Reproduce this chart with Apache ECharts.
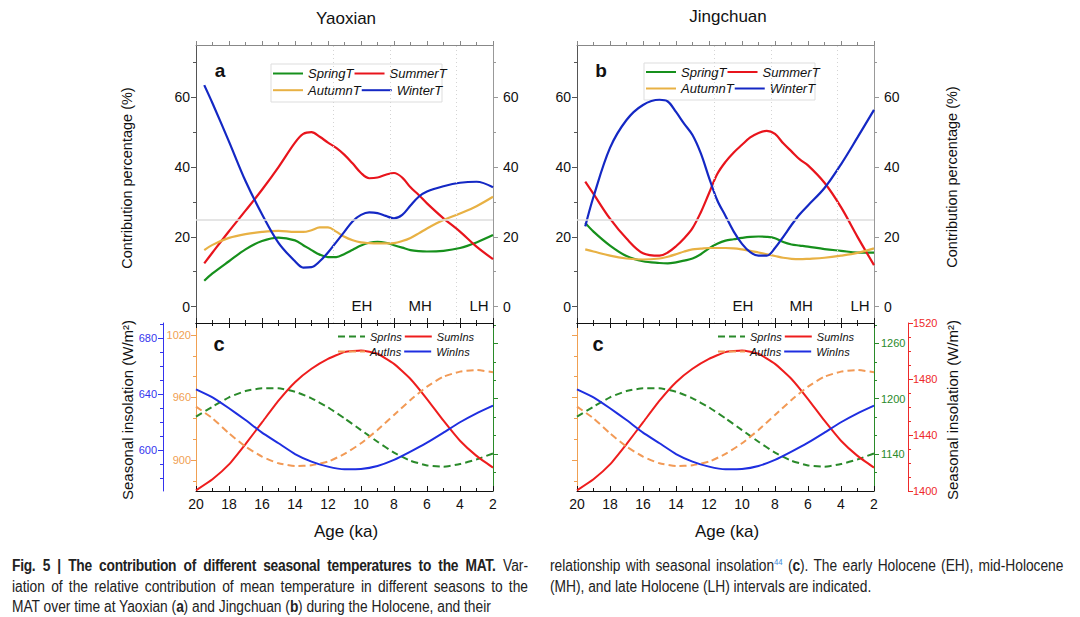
<!DOCTYPE html>
<html><head><meta charset="utf-8">
<script src="https://cdn.jsdelivr.net/npm/echarts@6/dist/echarts.min.js"></script>
<style>
html,body{margin:0;padding:0;background:#fff;}
#chart{position:absolute;left:0;top:0;width:1080px;height:617px;}
.cap{position:absolute;font-family:"Liberation Sans",Arial,sans-serif;font-size:16px;color:#222;line-height:20.5px;transform:scaleX(0.86);transform-origin:0 0;}
.cap div{white-space:nowrap;text-align:justify;text-align-last:justify;}
.cap div.last{text-align-last:left;}
.cap b{font-weight:bold;letter-spacing:-0.3px;}
.cap sup{color:#3c8ad8;font-size:9px;line-height:0;}
</style>
</head><body>
<div id="chart"></div>
<div class="cap" style="left:12px;top:556px;width:600px;">
<div><b>Fig. 5 | The contribution of different seasonal temperatures to the MAT.</b> Var-</div>
<div>iation of the relative contribution of mean temperature in different seasons to the</div>
<div class="last">MAT over time at Yaoxian (<b>a</b>) and Jingchuan (<b>b</b>) during the Holocene, and their</div>
</div>
<div class="cap" style="left:550px;top:556px;width:597px;">
<div>relationship with seasonal insolation<sup>44</sup> (<b>c</b>). The early Holocene (EH), mid-Holocene</div>
<div class="last">(MH), and late Holocene (LH) intervals are indicated.</div>
</div>
<script>
// ---------------- DATA ----------------
const yxAges = [19.5,19,18,17,16,15,14,13.5,13,12.5,12,11.5,11,10.5,10,9.5,9,8.5,8,7.5,7,6.5,6,5,4,3,2];
const yxSpringT = [7.4,9.5,13,16.4,18.8,19.8,19,17.6,16.2,14.9,14.2,14.2,15.1,16.3,17.5,18.3,18.6,18.3,17.6,16.9,16.2,15.9,15.8,16,16.8,18.4,20.5];
const yxSummerT = [12.4,15.5,21.6,27.5,33.5,40,47,49.5,50,48.7,47,45.5,43.5,41,38.3,36.8,37,37.8,38.3,37,34.2,32,29.6,25.3,21.5,17.2,13.6];
const yxAutumnT = [16.2,17.7,19.7,20.8,21.4,21.7,21.4,21.4,21.9,22.7,22.7,21.5,20,19,18.4,18.2,18.1,18.1,18.2,18.8,19.7,21,22.4,24.8,26.7,28.8,31.5];
const yxWinterT = [63.5,58.3,47.3,36,26.5,18.3,13,11.2,11.3,13,15.5,18.5,21.5,24.5,26.3,27,26.8,26,25.3,26.3,29,31.5,33,34.5,35.5,35.8,34.2];

const jcAges = [19.5,19,18,17,16,15,14.5,14,13.5,13,12.5,12,11.5,11,10.5,10,9.5,9,8.5,8,7.5,7,6.5,6,5,4,3,2];
const jcSpringT = [24,21.5,17.5,14.5,13,12.5,12.4,12.7,13.2,13.8,15,16.7,18,18.9,19.3,19.7,20,20.1,20,19.6,18.5,17.8,17.5,17.2,16.5,16,15.5,15.5];
const jcSummerT = [35.8,32.3,25.2,19.5,15.3,14.6,15.5,17.3,19.6,22.5,27,32.5,38,41.5,44.2,46.4,48.5,49.8,50.4,49.5,46.8,44.5,42.2,40.5,35.5,28.5,20,11.9];
const jcAutumnT = [16.4,15.8,14.6,13.8,13.5,13.8,14.3,15,15.8,16.4,16.6,16.8,16.8,16.8,16.7,16.4,16,15.5,15,14.5,14,13.7,13.6,13.7,14,14.6,15.4,16.7];
const jcWinterT = [23,31.5,45.5,53.5,57.8,59.3,58.8,55.8,52.4,49.2,44,37,30.5,26,21.5,18,15.6,14.6,14.6,16.8,20,23.4,26.5,29,34,40.8,48.5,56.4];

const insAges = [20,19,18,17,16,15,14,13,12,11,10,9,8,7,6,5,4,3,2];
const sprIns = [1180.5,1191.3,1201.5,1208.3,1211.2,1211.2,1207.6,1200.4,1190.6,1178.7,1166,1153.4,1141.5,1132.8,1127.7,1126.3,1129.2,1134.2,1140.7];
const sumIns = [1400.5,1408.4,1419,1433.5,1449,1464.5,1477.7,1487.3,1494.4,1499.2,1500.4,1498,1490.8,1480,1465.7,1450.2,1435.9,1425.1,1416.7];
const autIns = [951.2,940,925.6,912.8,903.2,896.8,894.2,894.9,898.4,905.8,916,928.8,943.2,957.6,970.4,980,984.8,986.4,984.2];
const winIns = [643.3,637.6,629.8,621.4,612.4,604.8,597.1,591.7,588.1,586.2,586.4,588.6,592.9,598.8,605.2,612.4,619.8,626.2,631.7];

const pctTicks = [0,20,40,60];
const pctMinor = [10,30,50,70];
const winTicks = [600,640,680];
const winMinor = [580,590,610,620,630,650,660,670,690];
const autTicks = [900,960,1020];
const autMinor = [880,920,940,980,1000];
const sprTicks = [1140,1200,1260];
const sprMinor = [1120,1160,1180,1220,1240,1280];
const sumTicks = [1400,1440,1480,1520];
const sumMinor = [1410,1420,1430,1450,1460,1470,1490,1500,1510];
const periodBounds = [11.7,8.2,4.2];
const periodLabels = ['EH','MH','LH'];
const periodLabelAges = [9.94,6.42,2.85];

// ---------------- STYLE / LAYOUT ----------------
const FONT = '"Liberation Sans", Arial, Helvetica, sans-serif';
const C = {green:'#16901c', red:'#e8141c', orange:'#e8b144', blue:'#1428c4',
  sprIns:'#2a8a2a', autIns:'#f29a56', sumIns:'#ee1d1d', winIns:'#1e2ee0',
  axBlue:'#3434ee', axOrange:'#f0a052', axGreen:'#2a8a2a', axRed:'#ee2a2a'};
const G = [
  {left:196, top:45, width:297, height:278},
  {left:577, top:45, width:297, height:278},
  {left:196, top:323, width:297, height:168},
  {left:577, top:323, width:297, height:168}
];
const plain = v => String(v);

const xAxes = [];
function addX(grid, pos, o) {
  xAxes.push({type:'value', gridIndex:grid, position:pos, min:2, max:20, interval:2, inverse:true,
    axisLine:{show:true, onZero:false, lineStyle:{color:o.lineColor, width:1}},
    axisTick:{show:true, inside:o.inside, length:o.len||5, lineStyle:{color:o.lineColor}},
    minorTick:{show:true, splitNumber:2, length:3, lineStyle:{color:o.lineColor}},
    axisLabel:{show:!!o.labels, color:'#111', fontSize:14, margin:6, fontFamily:FONT, formatter:plain},
    splitLine:{show:false}, minorSplitLine:{show:false}});
  return xAxes.length-1;
}
const yAxes = [];
function addY(o) {
  const idx = yAxes.length;
  if (o.hidden) { yAxes.push({type:'value', gridIndex:o.grid, show:false, min:o.min, max:o.max}); return idx; }
  yAxes.push({type:'value', gridIndex:o.grid, position:o.pos, offset:o.offset||0, min:o.min, max:o.max,
    axisLine:{show:true, onZero:false, lineStyle:{color:o.lineColor, width:1}},
    axisTick:{show:true, inside:false, length:5, customValues:o.majors, lineStyle:{color:o.lineColor}},
    axisLabel:{show:!!o.labels, customValues:o.majors, color:o.labelColor||'#111', fontSize:o.fs||11, margin:o.margin||6, fontFamily:FONT, formatter:plain},
    splitLine:{show:false}});
  if (o.minors) yAxes.push({type:'value', gridIndex:o.grid, position:o.pos, offset:o.offset||0, min:o.min, max:o.max,
    axisLine:{show:false, onZero:false}, axisTick:{show:true, inside:false, length:3, customValues:o.minors, lineStyle:{color:o.lineColor}},
    axisLabel:{show:false}, splitLine:{show:false}});
  return idx;
}

const xT0 = addX(0,'bottom',{lineColor:'#222', inside:true});
addX(0,'top',{lineColor:'#888', inside:false, len:4});
const xT1 = addX(1,'bottom',{lineColor:'#222', inside:true});
addX(1,'top',{lineColor:'#888', inside:false, len:4});
const xB0 = addX(2,'bottom',{lineColor:'#111', inside:true, labels:true});
addX(2,'top',{lineColor:'#111', inside:true});
const xB1 = addX(3,'bottom',{lineColor:'#111', inside:true, labels:true});
addX(3,'top',{lineColor:'#111', inside:true});

const yT0 = addY({grid:0,pos:'left',min:-4.7,max:75,majors:pctTicks,minors:pctMinor,lineColor:'#555',labels:true,fs:14,margin:6});
addY({grid:0,pos:'right',min:-4.7,max:75,majors:pctTicks,minors:pctMinor,lineColor:'#999',labels:true,fs:14,margin:10});
const yT1 = addY({grid:1,pos:'left',min:-4.7,max:75,majors:pctTicks,minors:pctMinor,lineColor:'#555',labels:true,fs:14,margin:6});
addY({grid:1,pos:'right',min:-4.7,max:75,majors:pctTicks,minors:pctMinor,lineColor:'#999',labels:true,fs:14,margin:10});

const WIN_R=[570.7,690.7], AUT_R=[870.2,1031.5], SPR_R=[1100,1282], SUM_R=[1400,1520];
const yWin0 = addY({grid:2,pos:'left',offset:33,min:WIN_R[0],max:WIN_R[1],majors:winTicks,minors:winMinor,lineColor:C.axBlue,labelColor:C.axBlue,labels:true,margin:6});
const yAut0 = addY({grid:2,pos:'left',min:AUT_R[0],max:AUT_R[1],majors:autTicks,minors:autMinor,lineColor:C.axOrange,labelColor:C.axOrange,labels:true,margin:5});
const ySpr0 = addY({grid:2,pos:'right',min:SPR_R[0],max:SPR_R[1],majors:sprTicks,minors:sprMinor,lineColor:C.axGreen,labels:false});
const ySum0 = addY({grid:2,hidden:true,min:SUM_R[0],max:SUM_R[1]});
const yWin1 = addY({grid:3,hidden:true,min:WIN_R[0],max:WIN_R[1]});
const yAut1 = addY({grid:3,pos:'left',min:AUT_R[0],max:AUT_R[1],majors:autTicks,minors:autMinor,lineColor:C.axOrange,labels:false});
const ySpr1 = addY({grid:3,pos:'right',min:SPR_R[0],max:SPR_R[1],majors:sprTicks,minors:sprMinor,lineColor:C.axGreen,labelColor:C.axGreen,labels:true,margin:7});
const ySum1 = addY({grid:3,pos:'right',offset:34,min:SUM_R[0],max:SUM_R[1],majors:sumTicks,minors:sumMinor,lineColor:C.axRed,labelColor:C.axRed,labels:true,margin:5});

function pairs(xs, ys){ return xs.map((x,i)=>[x, ys[i]]); }
function line(name, xi, yi, xs, ys, color, o) {
  o = o || {};
  const s = {type:'line', name, xAxisIndex:xi, yAxisIndex:yi, data:pairs(xs, ys), smooth:o.smooth===undefined?0.35:o.smooth,
    symbol:'none', animation:false, lineStyle:{color, width:o.width||2.2, type:o.dash?[7,4]:'solid'}, itemStyle:{color}, z:o.z||3};
  if (o.marks) s.markLine = {silent:true, symbol:['none','none'], label:{show:false}, animation:false,
    data:[{yAxis:25, lineStyle:{color:'#dcdcdc', width:1.5, type:'solid'}}].concat(
      periodBounds.map(v=>({xAxis:v, lineStyle:{color:'#d4d4d4', width:1, type:[1,3]}})))};
  return s;
}
const series = [
  line('SpringT', xT0, yT0, yxAges, yxSpringT, C.green, {marks:true}),
  line('SummerT', xT0, yT0, yxAges, yxSummerT, C.red),
  line('AutumnT', xT0, yT0, yxAges, yxAutumnT, C.orange),
  line('WinterT', xT0, yT0, yxAges, yxWinterT, C.blue),
  line('SpringT', xT1, yT1, jcAges, jcSpringT, C.green, {marks:true}),
  line('SummerT', xT1, yT1, jcAges, jcSummerT, C.red),
  line('AutumnT', xT1, yT1, jcAges, jcAutumnT, C.orange),
  line('WinterT', xT1, yT1, jcAges, jcWinterT, C.blue),
  line('SprIns', xB0, ySpr0, insAges, sprIns, C.sprIns, {dash:true, smooth:0.15, width:2}),
  line('SumIns', xB0, ySum0, insAges, sumIns, C.sumIns, {smooth:0.15, width:2}),
  line('AutIns', xB0, yAut0, insAges, autIns, C.autIns, {dash:true, smooth:0.15, width:2}),
  line('WinIns', xB0, yWin0, insAges, winIns, C.winIns, {smooth:0.15, width:2}),
  line('SprIns', xB1, ySpr1, insAges, sprIns, C.sprIns, {dash:true, smooth:0.15, width:2}),
  line('SumIns', xB1, ySum1, insAges, sumIns, C.sumIns, {smooth:0.15, width:2}),
  line('AutIns', xB1, yAut1, insAges, autIns, C.autIns, {dash:true, smooth:0.15, width:2}),
  line('WinIns', xB1, yWin1, insAges, winIns, C.winIns, {smooth:0.15, width:2})
];

function leg(names, left, top, small) {
  return {data:names, left, top, orient:'horizontal', padding:0, itemGap:small?2:0, selectedMode:false,
    itemWidth:small?27:30, itemHeight:small?12:14,
    itemStyle:{opacity:0, color:'rgba(0,0,0,0)', borderWidth:0},
    textStyle:{fontStyle:'italic', fontSize:small?11:13, color:'#111', fontFamily:FONT}};
}
const legends = [
  leg(['SpringT','SummerT'],272,67), leg(['AutumnT','WinterT'],272,83.7),
  leg(['SpringT','SummerT'],645,65.5), leg(['AutumnT','WinterT'],645,82),
  leg(['SprIns','SumIns'],337,331,true), leg(['AutIns','WinIns'],337,346,true),
  leg(['SprIns','SumIns'],717,331,true), leg(['AutIns','WinIns'],717,346,true)
];

function txt(s, x, y, o) {
  o = o || {};
  return {type:'text', x, y, rotation:o.rot||0, z:10, silent:true,
    style:{text:s, fill:o.color||'#111', font:(o.bold?'bold ':'')+(o.size||14)+'px '+FONT, align:'center', verticalAlign:'middle'}};
}
const graphics = [
  {type:'rect', shape:{x:271,y:64,width:171,height:38}, style:{fill:'none', stroke:'#dddddd', lineWidth:1}, z:1, silent:true},
  {type:'rect', shape:{x:644,y:63,width:171,height:37}, style:{fill:'none', stroke:'#dddddd', lineWidth:1}, z:1, silent:true},
  txt('Yaoxian', 346, 18, {size:17}), txt('Jingchuan', 728, 16, {size:17}),
  txt('a', 220, 70, {size:19, bold:true}), txt('b', 601, 70, {size:19, bold:true}),
  txt('c', 219, 344, {size:20, bold:true}), txt('c', 598, 344, {size:20, bold:true}),
  txt('Contribution percentage (%)', 127, 178, {size:14.5, rot:Math.PI/2}),
  txt('Contribution percentage (%)', 952, 177, {size:14.5, rot:Math.PI/2}),
  txt('Seasonal insolation (W/m²)', 127, 410, {size:15, rot:Math.PI/2}),
  txt('Seasonal insolation (W/m²)', 952, 410, {size:15, rot:Math.PI/2}),
  txt('Age (ka)', 346, 531, {size:17}), txt('Age (ka)', 727, 531, {size:17})
];
periodLabels.forEach((lab, i) => {
  [0,1].forEach(g => {
    const gx = G[g].left + (20 - periodLabelAges[i]) / 18 * G[g].width;
    graphics.push(txt(lab, gx, 305, {size:15}));
  });
});

const chart = echarts.init(document.getElementById('chart'), null, {renderer:'svg', width:1080, height:617});
chart.setOption({
  backgroundColor:'#fff', animation:false,
  grid: G.map(g => Object.assign({containLabel:false, outerBoundsMode:'none'}, g)),
  xAxis: xAxes, yAxis: yAxes, legend: legends, series, graphic: graphics
});
</script>
</body></html>
